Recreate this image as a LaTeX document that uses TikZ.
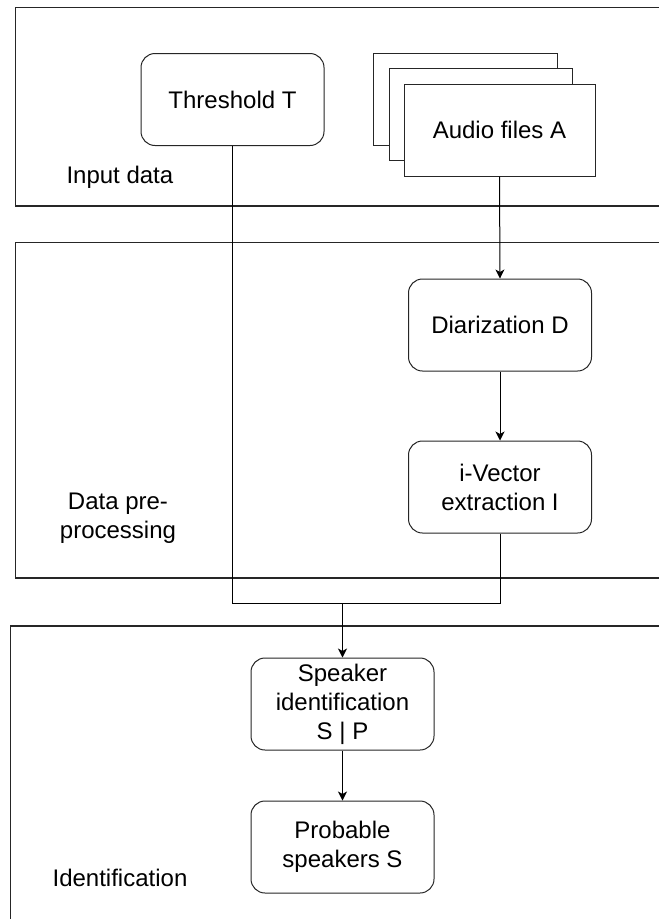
\documentclass[tikz,border=0pt]{standalone}
\usepackage{fontspec}
\setmainfont{Liberation Sans}
\usetikzlibrary{arrows.meta}
\begin{document}
\begin{tikzpicture}[x=1pt,y=-1pt,
  every node/.style={font=\fontsize{24}{29}\selectfont},
  lane/.style={draw=black!85,line width=1.1pt},
  proc/.style={draw=black!85,line width=1pt,rounded corners=14pt,fill=white,
    minimum width=183pt,minimum height=92pt,align=center,inner sep=2pt},
  page/.style={draw=black!85,line width=1pt,fill=white,minimum height=92pt,inner sep=0pt,align=center},
  conn/.style={draw=black,line width=1pt},
  arr/.style={conn,-{Stealth[length=9pt,width=9pt,inset=2.5pt]}}]
\useasboundingbox (0,0) rectangle (659,919);
\clip (0,0) rectangle (659,919);
% lanes
\draw[lane] (15.5,7.5) rectangle (690,206);
\draw[lane] (15.5,242.5) rectangle (690,578);
\draw[lane] (10.5,626) rectangle (690,940);
\node[anchor=west] (lin) at (63,177) {Input data};
\node[align=center] (lpre) at (118,518) {Data pre-\\processing};
\node (lid) at (120,878) {Identification};
% nodes
\node[proc] (thr) at (232.5,99.5) {Threshold T};
\node[page,minimum width=184pt] (aud3) at (465,99.5) {};
\node[page,minimum width=183pt] (aud2) at (480.5,114.5) {};
\node[page,minimum width=191pt] (aud) at (499.5,130) {Audio files A};
\node[proc] (dia) at (500,325) {Diarization D};
\node[proc] (ivec) at (500,487) {i-Vector\\extraction I};
\node[proc] (spk) at (342.5,704) {Speaker\\identification\\S | P};
\node[proc] (prob) at (342.5,847) {Probable\\speakers S};
\coordinate (m) at (342.5,603);
% connectors
\draw[arr] (aud.south) -- (dia.north);
\draw[arr] (dia.south) -- (ivec.north);
\draw[conn] (thr.south) |- (m);
\draw[conn] (ivec.south) |- (m);
\draw[arr] (m) -- (spk.north);
\draw[arr] (spk.south) -- (prob.north);
\end{tikzpicture}
\end{document}
